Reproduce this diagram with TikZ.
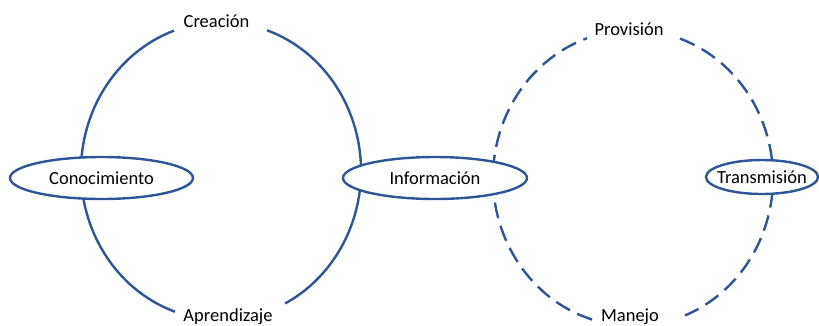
\documentclass[tikz,border=0pt]{standalone}
\usepackage{fontspec}
\setmainfont{Carlito}
\usetikzlibrary{shapes.geometric}
\definecolor{ringblue}{RGB}{47,85,151}
\begin{document}
\begin{tikzpicture}[x=1pt,y=-1pt,
  ring/.style={draw=ringblue,line width=2.4pt},
  dashring/.style={ring,dash pattern=on 16pt off 8pt},
  topic/.style={ellipse,draw=ringblue,line width=2.4pt,fill=white,inner sep=0pt,
    text height=12pt,text depth=0pt,font=\fontsize{18.5}{20}\selectfont},
  word/.style={inner sep=0pt,text height=12pt,text depth=0pt,font=\fontsize{18.5}{20}\selectfont},
  tag/.style={anchor=base,inner sep=0pt,font=\fontsize{18.5}{20}\selectfont}]
\clip (0,0) rectangle (819,325);
\useasboundingbox (0,0) rectangle (819,325);

% left cycle: two solid arcs with gaps for the labels
\coordinate (lc) at (221,171);
\draw[ring] ([shift={(-70.8:140 and 149)}]lc) arc[start angle=-70.8,end angle=62.8,x radius=140,y radius=149];
\draw[ring] ([shift={(109.2:140 and 149)}]lc) arc[start angle=109.2,end angle=250.4,x radius=140,y radius=149];

% right cycle: two dashed arcs with gaps for the labels
\coordinate (rc) at (633,178);
\draw[dashring] ([shift={(-70.4:140 and 148)}]rc) arc[start angle=-70.4,end angle=68.2,x radius=140,y radius=148];
\draw[dashring] ([shift={(107:140 and 148)}]rc) arc[start angle=107,end angle=250.8,x radius=140,y radius=148];

% topics on the cycles
\node[topic,minimum width=183pt,minimum height=42pt] (con) at (101.5,178) {Conocimiento};
\node[topic,minimum width=184pt,minimum height=42pt] (inf) at (435,178) {Información};
% this ellipse is tighter than the word it holds, so the word is set on top
\node[topic,minimum width=112pt,minimum height=34pt] (tra) at (762,177) {};
\node[word] (tratext) at (tra.center) {Transmisión};

% labels in the gaps
\node[tag] (cre) at (216.5,27) {Creación};
\node[tag] (apr) at (228,321) {Aprendizaje};
\node[tag] (pro) at (629,35) {Provisión};
\node[tag] (man) at (630,321) {Manejo};
\end{tikzpicture}
\end{document}
